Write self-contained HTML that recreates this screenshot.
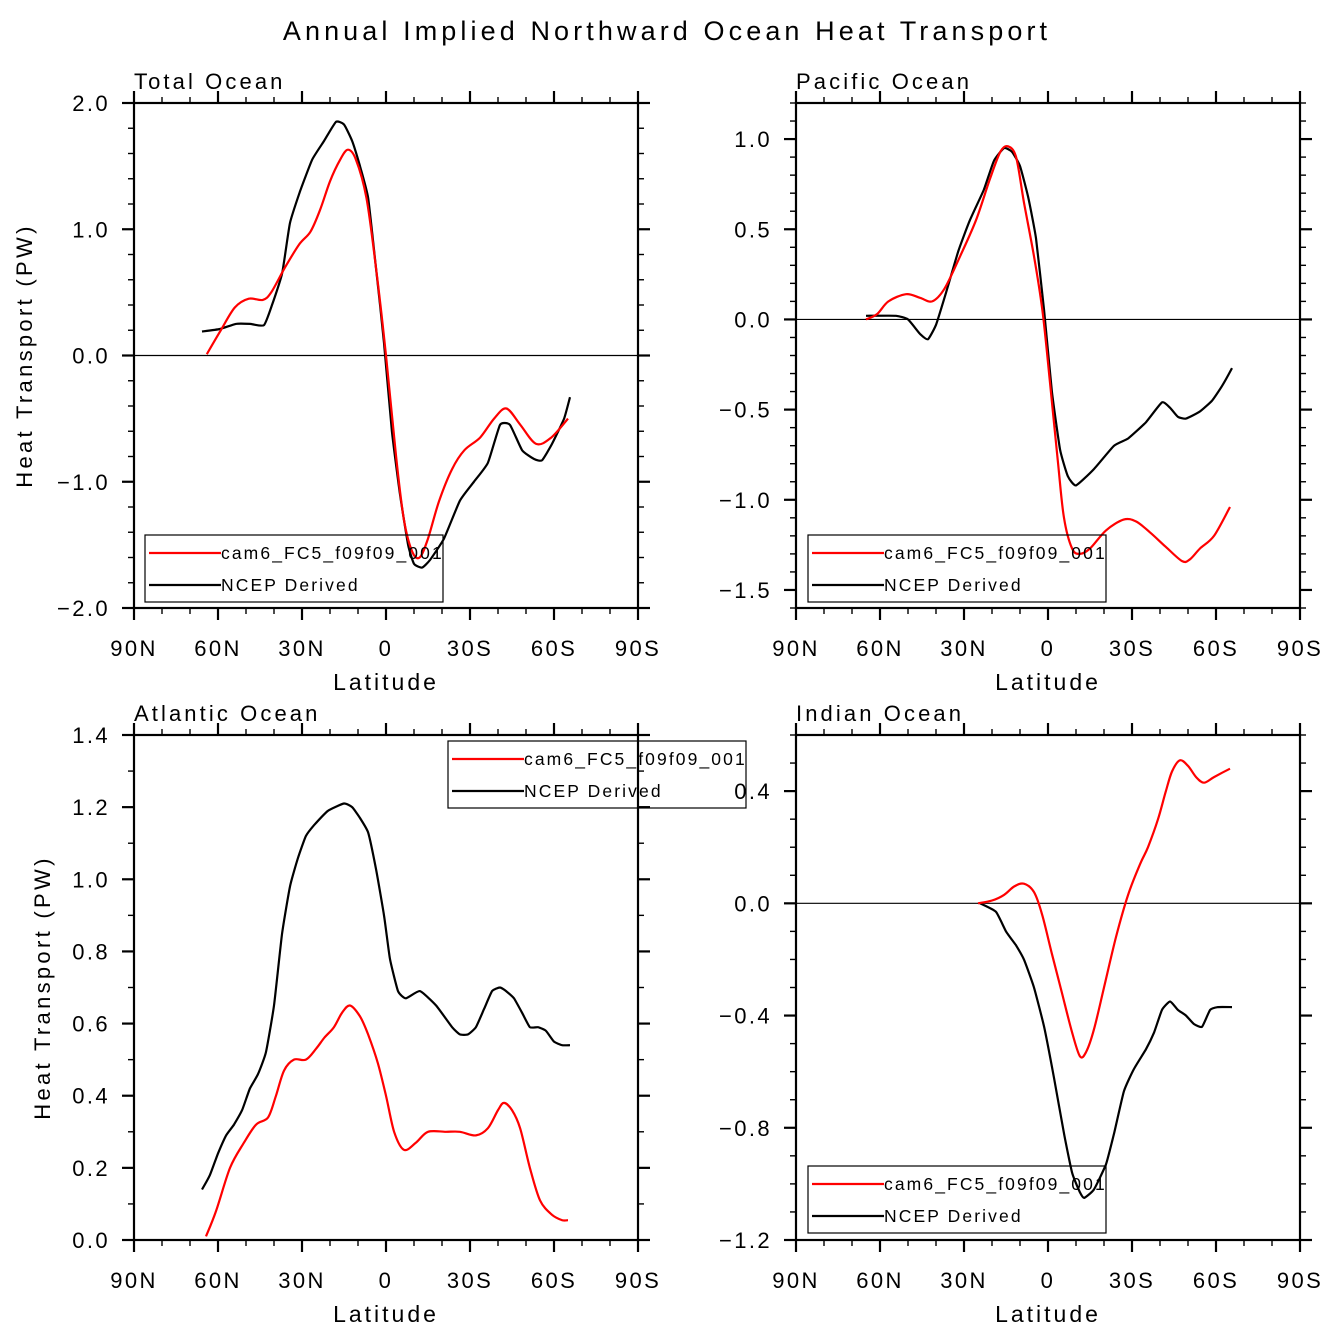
<!DOCTYPE html>
<html><head><meta charset="utf-8"><style>
body{margin:0;background:#fff}
svg{display:block}
text{font-family:"Liberation Sans",sans-serif;fill:#000;letter-spacing:2.4px}
</style></head><body>
<svg id="s" width="1335" height="1338" viewBox="0 0 1335 1338" xmlns="http://www.w3.org/2000/svg">
<text x="667" y="40" font-size="27" text-anchor="middle" style="letter-spacing:4.1px">Annual Implied Northward Ocean Heat Transport</text>
</svg>
<script>
const tlRedLat=[64,59,54,49,44,41,36,31,27,23.6,20,16.4,13.6,10.7,7,3.6,0,-3.6,-6.4,-9.3,-12,-15,-19,-23.6,-28,-33.6,-38.6,-43,-48,-53.6,-59,-65];
const tlRedVal=[0.01,0.2,0.38,0.45,0.44,0.5,0.7,0.88,0.98,1.15,1.38,1.55,1.63,1.55,1.25,0.7,0.0,-0.8,-1.3,-1.55,-1.6,-1.45,-1.15,-0.9,-0.75,-0.65,-0.5,-0.42,-0.55,-0.7,-0.65,-0.5];
const tlBlkLat=[65.7,59.3,53.6,48.6,43.6,40.7,37.1,34.3,30.7,26.4,22.1,17.9,15,12.1,9.3,6.4,3.6,0.7,-2.1,-5,-7.9,-10,-12.9,-15.7,-20.7,-26.4,-31.4,-36.4,-40.7,-44.3,-48.6,-52.9,-55.7,-59.3,-63.6,-65.7];
const tlBlkVal=[0.19,0.21,0.25,0.25,0.24,0.4,0.65,1.05,1.3,1.55,1.7,1.85,1.83,1.7,1.5,1.25,0.7,0.1,-0.6,-1.1,-1.5,-1.65,-1.68,-1.62,-1.45,-1.15,-1.0,-0.85,-0.55,-0.55,-0.75,-0.82,-0.83,-0.7,-0.5,-0.33];
const trRedLat=[65,61,57,50.7,45.7,41.4,37,31.4,25.7,20.7,17,14.3,11.4,8.6,5,2,-0.7,-3.6,-5.7,-8.6,-11.4,-15,-20.7,-27,-31.4,-36.4,-42,-47.9,-50.7,-54.3,-59.3,-65];
const trRedVal=[0,0.03,0.1,0.14,0.12,0.1,0.17,0.35,0.55,0.78,0.93,0.96,0.9,0.65,0.35,0.05,-0.35,-0.8,-1.1,-1.27,-1.3,-1.27,-1.17,-1.11,-1.12,-1.18,-1.26,-1.34,-1.33,-1.27,-1.2,-1.04];
const trBlkLat=[65,54.3,50,45.7,42.9,40,36.4,32,27.9,22.9,19.3,15.7,12.9,10,7.1,4.3,1.4,-1.4,-4.3,-7.1,-10,-16.4,-23.6,-28.6,-35,-40.7,-43.6,-46.4,-49.3,-54.3,-58.6,-62.1,-65.7];
const trBlkVal=[0.02,0.02,0,-0.08,-0.11,-0.03,0.15,0.38,0.55,0.72,0.88,0.95,0.93,0.85,0.68,0.45,0.05,-0.4,-0.72,-0.87,-0.92,-0.83,-0.7,-0.66,-0.57,-0.46,-0.49,-0.54,-0.55,-0.51,-0.45,-0.37,-0.27];
const blRedLat=[64.3,60.7,55.7,50.7,46.4,42.1,39.3,36.4,32.9,28.6,25,22.1,18.6,15.7,12.9,9.3,6.4,2.9,0,-2.9,-6.4,-10.7,-15,-21.4,-26.4,-32.1,-36.4,-40,-42.1,-45,-47.9,-51.4,-55,-59.3,-62.9,-65];
const blRedVal=[0.01,0.08,0.2,0.27,0.32,0.34,0.4,0.47,0.5,0.5,0.53,0.56,0.59,0.63,0.65,0.62,0.57,0.49,0.4,0.3,0.25,0.27,0.3,0.3,0.3,0.29,0.31,0.36,0.38,0.36,0.31,0.2,0.11,0.07,0.055,0.055];
const blBlkLat=[65.7,62.9,60,57.1,54.3,51.4,48.6,45.7,42.9,40,37.1,34.3,31.4,28.6,25.7,20.7,15,12.1,9.3,6.4,3.6,0.7,-1.4,-4.3,-7.1,-12.1,-17.9,-23.6,-26.4,-29.3,-32.1,-35,-37.9,-40.7,-42.9,-45.7,-48.6,-51.4,-54.3,-57.1,-60,-62.9,-65.7];
const blBlkVal=[0.14,0.18,0.24,0.29,0.32,0.36,0.42,0.46,0.52,0.65,0.85,0.98,1.06,1.12,1.15,1.19,1.21,1.2,1.17,1.13,1.03,0.9,0.78,0.69,0.67,0.69,0.65,0.59,0.57,0.57,0.59,0.64,0.69,0.7,0.69,0.67,0.63,0.59,0.59,0.58,0.55,0.54,0.54];
const brRedLat=[25,20,15.7,12.1,8.6,5,2.1,-1.4,-5,-8.6,-11.4,-13.6,-16.4,-20,-24.3,-28.6,-32.9,-35.7,-39.3,-42.1,-44.3,-47.1,-50,-52.9,-55.7,-59.3,-65];
const brRedVal=[0,0.01,0.03,0.06,0.07,0.04,-0.04,-0.18,-0.32,-0.46,-0.545,-0.53,-0.45,-0.3,-0.12,0.03,0.14,0.2,0.3,0.4,0.47,0.51,0.49,0.45,0.43,0.45,0.48];
const brBlkLat=[24.3,18.6,15,11.4,8.6,5,1.4,-2.1,-5.7,-8.6,-11.4,-12.9,-16.4,-20.7,-23.6,-27.1,-30.7,-35,-37.9,-40.7,-43.6,-46.4,-49.3,-52.1,-55,-57.9,-60.7,-65.7];
const brBlkVal=[0,-0.03,-0.1,-0.15,-0.2,-0.3,-0.44,-0.62,-0.82,-0.96,-1.03,-1.05,-1.02,-0.93,-0.82,-0.67,-0.59,-0.52,-0.46,-0.38,-0.35,-0.38,-0.4,-0.43,-0.44,-0.38,-0.37,-0.37];
const xTickLabels=["90N","60N","30N","0","30S","60S","90S"];
const tlYTicks=[-2,-1,0,1,2];
const trYTicks=[-1.5,-1,-0.5,0,0.5,1];
const blYTicks=[0,0.2,0.4,0.6,0.8,1,1.2,1.4];
const brYTicks=[-1.2,-0.8,-0.4,0,0.4];

const NS="http://www.w3.org/2000/svg";
const svg=document.getElementById('s');
function mk(tag,attrs,parent){const e=document.createElementNS(NS,tag);for(const k in attrs)e.setAttribute(k,attrs[k]);(parent||svg).appendChild(e);return e;}
function fmt(v,d){let s=v.toFixed(d);if(v<0)s="\u2212"+s.slice(1);return s;}
function smooth(p,t){let d='M'+p[0][0].toFixed(1)+','+p[0][1].toFixed(1);
  for(let i=0;i<p.length-1;i++){const p0=p[i-1]||p[i],p1=p[i],p2=p[i+1],p3=p[i+2]||p2;
    const c1=[p1[0]+(p2[0]-p0[0])*t,p1[1]+(p2[1]-p0[1])*t],c2=[p2[0]-(p3[0]-p1[0])*t,p2[1]-(p3[1]-p1[1])*t];
    d+=`C${c1[0].toFixed(1)},${c1[1].toFixed(1)} ${c2[0].toFixed(1)},${c2[1].toFixed(1)} ${p2[0].toFixed(1)},${p2[1].toFixed(1)}`;}
  return d;}

function panel(o){
  const g=mk('g',{});
  
  
  const X0=o.x,X1=o.x+504,Y0=o.y,Y1=o.y+505;
  const xs=lat=>X0+(90-lat)*(504/180);
  const ys=v=>Y1-(v-o.ymin)/(o.ymax-o.ymin)*505;
  if(o.ymin<0&&o.ymax>0){const z=mk('line',{x1:X0,x2:X1,y1:ys(0),y2:ys(0),stroke:'#000','stroke-width':1.2},g);
    
    }
  const ser=[[o.bl,o.bv,'#000','ncep-derived-line',0.08],[o.rl,o.rv,'#f00','cam6-line',0.16]];
  ser.forEach(s=>{const pts=s[0].map((l,i)=>[xs(l),ys(s[1][i])]);
    const p=mk('path',{d:smooth(pts,s[4]),fill:'none',stroke:s[2],'stroke-width':2.2,'stroke-linejoin':'round'},g);
    
    });
  const b=mk('rect',{x:X0,y:Y0,width:504,height:505,fill:'none',stroke:'#000','stroke-width':2.2},g);
  
  
  for(let lat=90;lat>=-90;lat-=10){const x=xs(lat);const maj=lat%30===0;const L=maj?12:6;
    mk('line',{x1:x,x2:x,y1:Y1,y2:Y1+L,stroke:'#000','stroke-width':maj?2.2:1.4},g);
    mk('line',{x1:x,x2:x,y1:Y0,y2:Y0-L,stroke:'#000','stroke-width':maj?2.2:1.4},g);}
  xTickLabels.forEach((t,i)=>{const tx=mk('text',{x:X0+i*84,y:Y1+48,'font-size':22,'text-anchor':'middle'},g);tx.textContent=t;
    
    });
  const steps=Math.round((o.ymax-o.ymin)/o.minor);
  for(let i=0;i<=steps;i++){const v=o.ymin+i*o.minor;const y=ys(v);const maj=Math.abs(v/o.major-Math.round(v/o.major))<1e-6;const L=maj?12:6;
    mk('line',{x1:X0,x2:X0-L,y1:y,y2:y,stroke:'#000','stroke-width':maj?2.2:1.4},g);
    mk('line',{x1:X1,x2:X1+L,y1:y,y2:y,stroke:'#000','stroke-width':maj?2.2:1.4},g);}
  o.yt.forEach(v=>{const tx=mk('text',{x:X0-24,y:ys(v)+8,'font-size':22,'text-anchor':'end'},g);tx.textContent=fmt(v,o.dec);
    
    });
  const t=mk('text',{x:X0,y:Y0-14,'font-size':22,style:'letter-spacing:3.1px'},g);t.textContent=o.title;
  
  
  const xl=mk('text',{x:X0+252,y:Y1+82,'font-size':23,'text-anchor':'middle',style:'letter-spacing:3px'},g);xl.textContent='Latitude';
  
  
  if(o.ytitle){const yl=mk('text',{x:0,y:0,'font-size':22,'text-anchor':'middle',style:'letter-spacing:3.3px',transform:`translate(${o.ytx},${(Y0+Y1)/2}) rotate(-90)`},g);yl.textContent='Heat Transport (PW)';
    
    }
  const lg=mk('g',{},g);
  
  
  mk('rect',{x:o.lx,y:o.ly,width:298,height:67,fill:'none',stroke:'#000','stroke-width':1.2},lg);
  [['#f00','cam6_FC5_f09f09_001',18],['#000','NCEP Derived',50]].forEach(e=>{
    mk('line',{x1:o.lx+4,x2:o.lx+76,y1:o.ly+e[2],y2:o.ly+e[2],stroke:e[0],'stroke-width':2.2},lg);
    const tx=mk('text',{x:o.lx+76,y:o.ly+e[2]+6,'font-size':17.5,style:'letter-spacing:2.1px'},lg);tx.textContent=e[1];
    
    });
}
panel({name:'total-ocean-panel',title:'Total Ocean',x:134,y:103,ymin:-2,ymax:2,major:1,minor:0.2,yt:tlYTicks,dec:1,rl:tlRedLat,rv:tlRedVal,bl:tlBlkLat,bv:tlBlkVal,ytitle:true,ytx:32,lx:145,ly:535});
panel({name:'pacific-ocean-panel',title:'Pacific Ocean',x:796,y:103,ymin:-1.6,ymax:1.2,major:0.5,minor:0.1,yt:trYTicks,dec:1,rl:trRedLat,rv:trRedVal,bl:trBlkLat,bv:trBlkVal,ytitle:false,lx:808,ly:535});
panel({name:'atlantic-ocean-panel',title:'Atlantic Ocean',x:134,y:735,ymin:0,ymax:1.4,major:0.2,minor:0.1,yt:blYTicks,dec:1,rl:blRedLat,rv:blRedVal,bl:blBlkLat,bv:blBlkVal,ytitle:true,ytx:50,lx:448,ly:741});
panel({name:'indian-ocean-panel',title:'Indian Ocean',x:796,y:735,ymin:-1.2,ymax:0.6,major:0.4,minor:0.1,yt:brYTicks,dec:1,rl:brRedLat,rv:brRedVal,bl:brBlkLat,bv:brBlkVal,ytitle:false,lx:808,ly:1166});
</script>
</body></html>
